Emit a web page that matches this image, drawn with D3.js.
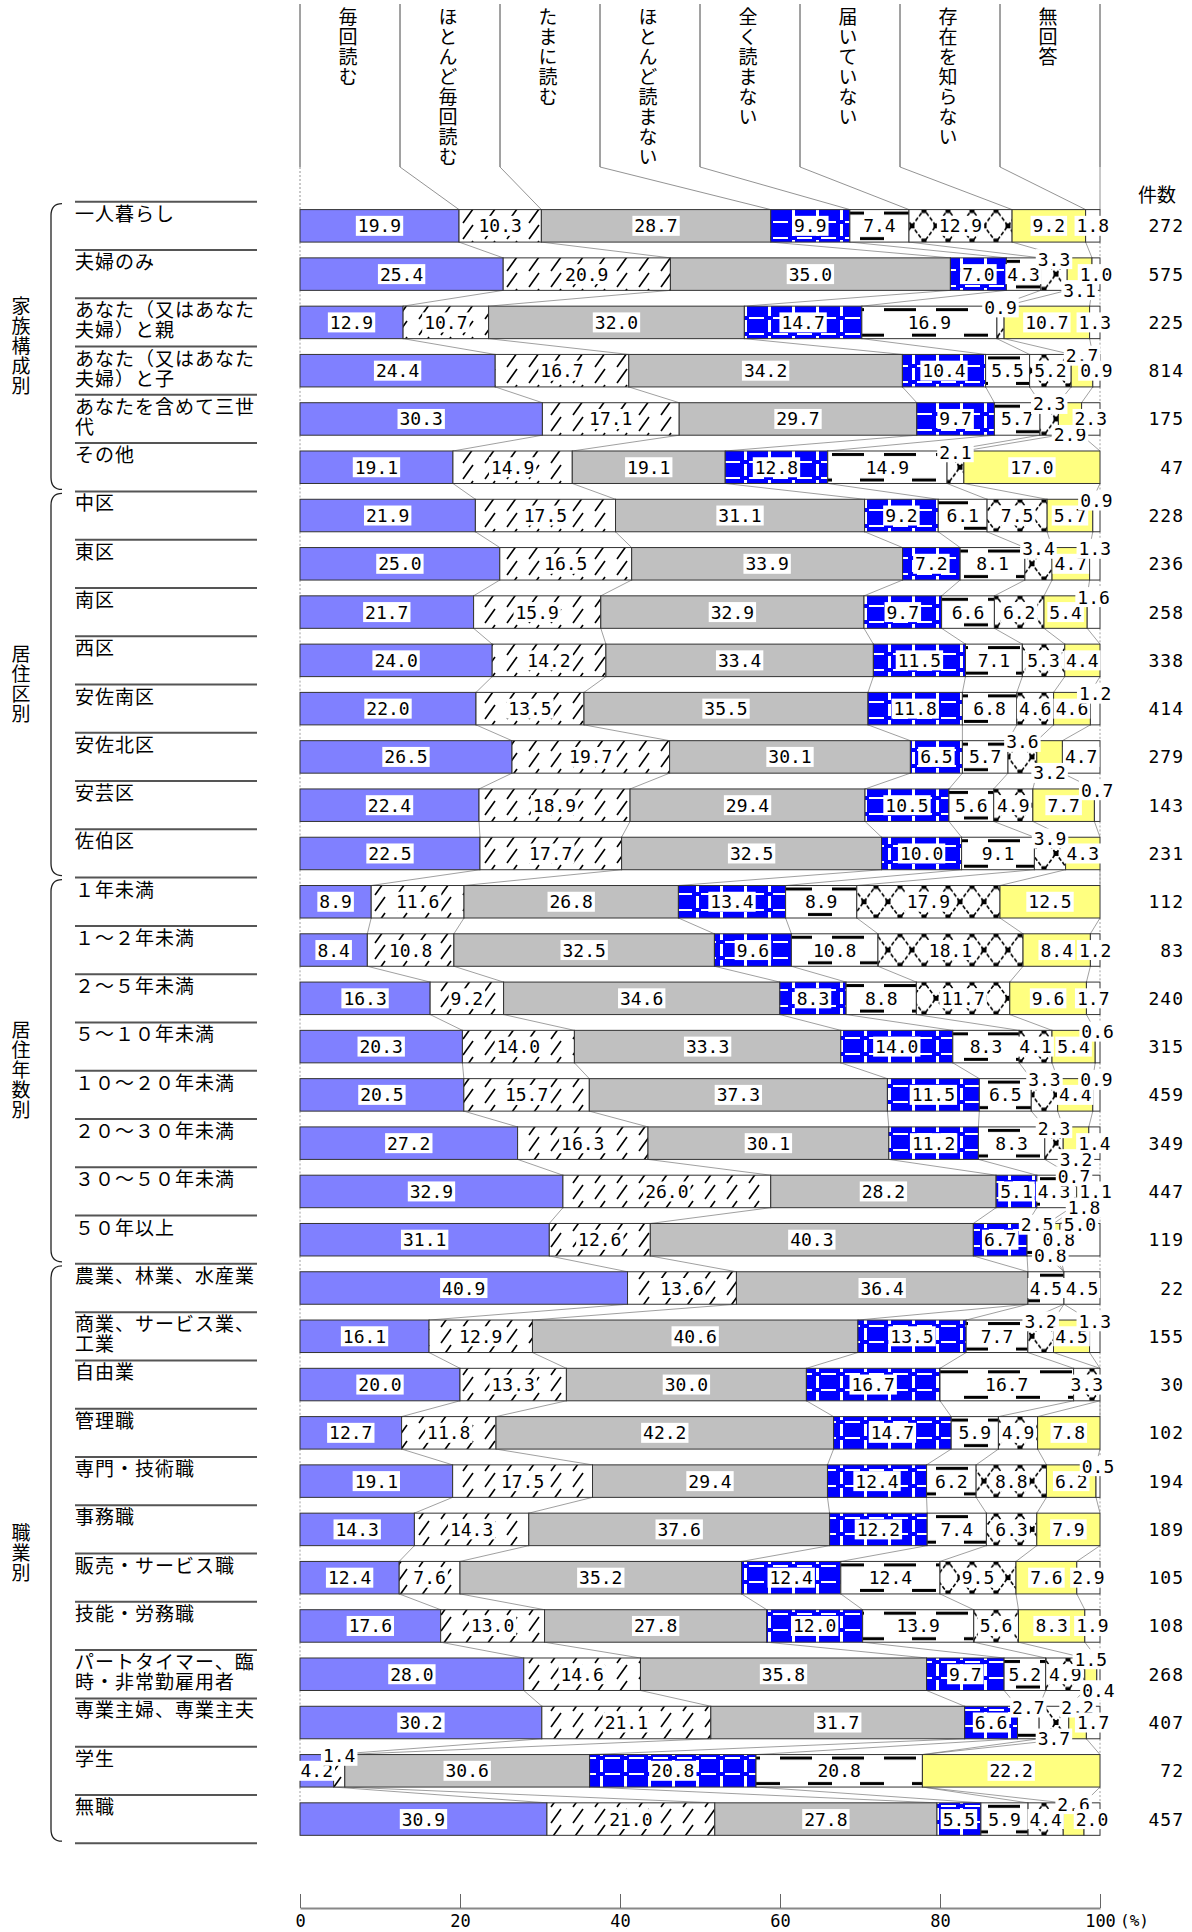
<!DOCTYPE html>
<html>
<head>
<meta charset="utf-8">
<script src="https://cdn.jsdelivr.net/npm/d3@7"></script>
<style>
  body { margin: 0; background: #fff; }
  svg { display: block; font-family: "Noto Sans CJK JP", sans-serif; }
</style>
</head>
<body>
<div id="chart"></div>
<script>
// answer categories (left to right)
const categories = ["毎回読む", "ほとんど毎回読む", "たまに読む", "ほとんど読まない",
  "全く読まない", "届いていない", "存在を知らない", "無回答"];

const groupNames = ["家族構成別", "居住区別", "居住年数別", "職業別"];

const familyLabels = ["一人暮らし", "夫婦のみ", "あなた（又はあなた\n夫婦）と親",
  "あなた（又はあなた\n夫婦）と子", "あなたを含めて三世\n代", "その他"];
const familyValues = [
  [19.9, 10.3, 28.7, 9.9, 7.4, 12.9, 9.2, 1.8],
  [25.4, 20.9, 35.0, 7.0, 4.3, 3.3, 3.1, 1.0],
  [12.9, 10.7, 32.0, 14.7, 16.9, 0.9, 10.7, 1.3],
  [24.4, 16.7, 34.2, 10.4, 5.5, 5.2, 2.7, 0.9],
  [30.3, 17.1, 29.7, 9.7, 5.7, 2.3, 2.9, 2.3],
  [19.1, 14.9, 19.1, 12.8, 14.9, 2.1, 17.0, 0]
];
const familyCounts = [272, 575, 225, 814, 175, 47];

const wardLabels = ["中区", "東区", "南区", "西区", "安佐南区", "安佐北区", "安芸区", "佐伯区"];
const wardValues = [
  [21.9, 17.5, 31.1, 9.2, 6.1, 7.5, 5.7, 0.9],
  [25.0, 16.5, 33.9, 7.2, 8.1, 3.4, 4.7, 1.3],
  [21.7, 15.9, 32.9, 9.7, 6.6, 6.2, 5.4, 1.6],
  [24.0, 14.2, 33.4, 11.5, 7.1, 5.3, 4.4, 0],
  [22.0, 13.5, 35.5, 11.8, 6.8, 4.6, 4.6, 1.2],
  [26.5, 19.7, 30.1, 6.5, 5.7, 3.6, 3.2, 4.7],
  [22.4, 18.9, 29.4, 10.5, 5.6, 4.9, 7.7, 0.7],
  [22.5, 17.7, 32.5, 10.0, 9.1, 3.9, 4.3, 0]
];
const wardCounts = [228, 236, 258, 338, 414, 279, 143, 231];

const yearsLabels = ["１年未満", "１～２年未満", "２～５年未満", "５～１０年未満",
  "１０～２０年未満", "２０～３０年未満", "３０～５０年未満", "５０年以上"];
const yearsValues = [
  [8.9, 11.6, 26.8, 13.4, 8.9, 17.9, 12.5, 0],
  [8.4, 10.8, 32.5, 9.6, 10.8, 18.1, 8.4, 1.2],
  [16.3, 9.2, 34.6, 8.3, 8.8, 11.7, 9.6, 1.7],
  [20.3, 14.0, 33.3, 14.0, 8.3, 4.1, 5.4, 0.6],
  [20.5, 15.7, 37.3, 11.5, 6.5, 3.3, 4.4, 0.9],
  [27.2, 16.3, 30.1, 11.2, 8.3, 2.3, 3.2, 1.4],
  [32.9, 26.0, 28.2, 5.1, 4.3, 0.7, 1.8, 1.1],
  [31.1, 12.6, 40.3, 6.7, 2.5, 0.8, 0.8, 5.0]
];
const yearsCounts = [112, 83, 240, 315, 459, 349, 447, 119];

const jobLabels = ["農業、林業、水産業", "商業、サービス業、\n工業", "自由業", "管理職",
  "専門・技術職", "事務職", "販売・サービス職", "技能・労務職",
  "パートタイマー、臨\n時・非常勤雇用者", "専業主婦、専業主夫", "学生", "無職"];
const jobValues = [
  [40.9, 13.6, 36.4, 0, 4.5, 0, 0, 4.5],
  [16.1, 12.9, 40.6, 13.5, 7.7, 3.2, 4.5, 1.3],
  [20.0, 13.3, 30.0, 16.7, 16.7, 3.3, 0, 0],
  [12.7, 11.8, 42.2, 14.7, 5.9, 4.9, 7.8, 0],
  [19.1, 17.5, 29.4, 12.4, 6.2, 8.8, 6.2, 0.5],
  [14.3, 14.3, 37.6, 12.2, 7.4, 6.3, 7.9, 0],
  [12.4, 7.6, 35.2, 12.4, 12.4, 9.5, 7.6, 2.9],
  [17.6, 13.0, 27.8, 12.0, 13.9, 5.6, 8.3, 1.9],
  [28.0, 14.6, 35.8, 9.7, 5.2, 4.9, 1.5, 0.4],
  [30.2, 21.1, 31.7, 6.6, 2.7, 3.7, 2.2, 1.7],
  [4.2, 1.4, 30.6, 20.8, 20.8, 0, 22.2, 0],
  [30.9, 21.0, 27.8, 5.5, 5.9, 4.4, 2.6, 2.0]
];
const jobCounts = [22, 155, 30, 102, 194, 189, 105, 108, 268, 407, 72, 457];

const axisTicks = [0, 20, 40, 60, 80, 100];


// build the table for d3.stack
const groupLabels = [familyLabels, wardLabels, yearsLabels, jobLabels];
const groupValues = [familyValues, wardValues, yearsValues, jobValues];
const groupCounts = [familyCounts, wardCounts, yearsCounts, jobCounts];

const rows = [];
groupLabels.forEach((labels, g) => {
  labels.forEach((label, i) => {
    const row = { id: rows.length, group: g, label: label, count: groupCounts[g][i] };
    categories.forEach((c, k) => row[c] = groupValues[g][i][k]);
    rows.push(row);
  });
});

const width = 1192, height = 1932;

const svg = d3.select("#chart").append("svg")
  .attr("width", width)
  .attr("height", height);

// 100% stacked: expand offset normalises every row to 1
const series = d3.stack().keys(categories).offset(d3.stackOffsetExpand)(rows);

const x = d3.scaleLinear().domain([0, 1]).range([300, 1100]);
const xPct = d3.scaleLinear().domain([0, 100]).range([300, 1100]);

const y = d3.scaleBand()
  .domain(rows.map(d => d.id))
  .range([201.7, 201.7 + rows.length * 48.28])
  .paddingInner(0.327)
  .paddingOuter(0.1635);
const ruleY = i => y.range()[0] + i * y.step();

// ---------- patterns ----------
const defs = svg.append("defs");

const pHatch = defs.append("pattern").attr("id", "pHatch")
  .attr("patternUnits", "userSpaceOnUse").attr("width", 22).attr("height", 16);
pHatch.append("rect").attr("width", 22).attr("height", 16).attr("fill", "#fff");
pHatch.append("line").attr("x1", 1).attr("y1", 15).attr("x2", 11).attr("y2", 1)
  .attr("stroke", "#000").attr("stroke-width", 1.6);

const pBlue = defs.append("pattern").attr("id", "pBlue")
  .attr("patternUnits", "userSpaceOnUse").attr("width", 24).attr("height", 16);
pBlue.append("rect").attr("width", 24).attr("height", 16).attr("fill", "#0000ff");
pBlue.append("rect").attr("x", 0).attr("y", 0).attr("width", 3).attr("height", 12).attr("fill", "#fff");
pBlue.append("rect").attr("x", 5).attr("y", 13).attr("width", 15).attr("height", 2).attr("fill", "#fff");

const pDash = defs.append("pattern").attr("id", "pDash")
  .attr("patternUnits", "userSpaceOnUse").attr("width", 52).attr("height", y.step())
  .attr("y", y(0));
pDash.append("rect").attr("width", 52).attr("height", y.step()).attr("fill", "#fff");
pDash.append("rect").attr("x", 0).attr("y", 2).attr("width", 32).attr("height", 3).attr("fill", "#000");
pDash.append("rect").attr("x", 28).attr("y", y.bandwidth() - 5).attr("width", 24).attr("height", 3).attr("fill", "#000");

const pCross = defs.append("pattern").attr("id", "pCross")
  .attr("patternUnits", "userSpaceOnUse").attr("width", 24).attr("height", y.step())
  .attr("y", y(0));
pCross.append("rect").attr("width", 24).attr("height", y.step()).attr("fill", "#fff");
const bh = y.bandwidth();
pCross.append("path")
  .attr("d", `M0,${bh / 2}L12,0L24,${bh / 2}L12,${bh}Z`)
  .attr("fill", "none").attr("stroke", "#000").attr("stroke-width", 1.6)
  .attr("stroke-dasharray", "4,2");
[[12, 1], [0, bh / 2], [24, bh / 2], [12, bh - 1]].forEach(p =>
  pCross.append("rect").attr("x", p[0] - 2.5).attr("y", p[1] - 2.5)
    .attr("width", 5).attr("height", 5).attr("fill", "#000"));

const fills = ["#8080ff", "url(#pHatch)", "#c0c0c0", "url(#pBlue)",
  "url(#pDash)", "url(#pCross)", "#ffff80", "#ffffff"];

// ---------- header ----------
const header = svg.append("g");
const colW = 100;
// one text element written top to bottom
function verticalText(g, str, cx, y0, anchor) {
  return g.append("text")
    .attr("x", cx).attr("y", y0)
    .attr("text-anchor", anchor)
    .style("writing-mode", "vertical-rl")
    .style("font-size", "19px")
    .style("letter-spacing", "1px")
    .text(str);
}

// boundaries of the first bar, for header connectors
const firstBounds = [0].concat(series.map(s => s[0][1]));

d3.range(categories.length + 1).forEach(k => {
  const cx = 300 + k * colW;
  header.append("line")
    .attr("x1", cx).attr("x2", cx).attr("y1", 4).attr("y2", 167)
    .attr("stroke", "#444").attr("stroke-width", 1);
  header.append("line")
    .attr("x1", cx).attr("y1", 167)
    .attr("x2", x(firstBounds[k])).attr("y2", y(0))
    .attr("stroke", "#777").attr("stroke-width", 0.8)
    .attr("stroke-dasharray", k === 0 ? "2,2" : null);
});
categories.forEach((c, k) => {
  verticalText(header, c, 300 + k * colW + 48, 7, "start");
});

svg.append("text")
  .attr("x", 1176).attr("y", 193)
  .attr("text-anchor", "end").attr("dominant-baseline", "central")
  .style("font-size", "19px")
  .text("件数");

// ---------- row labels, rules, group braces ----------
const labelG = svg.append("g");
rows.forEach((d, i) => {
  labelG.append("line")
    .attr("x1", 75).attr("x2", 257)
    .attr("y1", ruleY(i)).attr("y2", ruleY(i))
    .attr("stroke", "#555").attr("stroke-width", 2);
  const t = labelG.append("text")
    .attr("y", ruleY(i) + 19)
    .style("font-size", "19px")
    .style("letter-spacing", "1px");
  d.label.split("\n").forEach((line, j) => {
    t.append("tspan")
      .attr("x", 75)
      .attr("dy", j === 0 ? 0 : 20)
      .text(line);
  });
});
labelG.append("line")
  .attr("x1", 75).attr("x2", 257)
  .attr("y1", ruleY(rows.length)).attr("y2", ruleY(rows.length))
  .attr("stroke", "#555").attr("stroke-width", 2);

let start = 0;
groupNames.forEach((name, g) => {
  const n = groupLabels[g].length;
  const top = ruleY(start) + 2, bot = ruleY(start + n) - 2;
  labelG.append("path")
    .attr("d", `M62,${top}Q51,${top} 51,${top + 12}L51,${bot - 12}Q51,${bot} 62,${bot}`)
    .attr("fill", "none").attr("stroke", "#222").attr("stroke-width", 1.3);
  verticalText(labelG, name, 21, (top + bot) / 2, "middle");
  start += n;
});

// ---------- connectors between bars ----------
const conn = svg.append("g");
const bounds = rows.map((d, i) => [0].concat(series.map(s => s[i][1])));
for (let i = 0; i < rows.length - 1; i++) {
  bounds[i].forEach((b, k) => {
    conn.append("line")
      .attr("x1", x(b)).attr("y1", y(i) + y.bandwidth())
      .attr("x2", x(bounds[i + 1][k])).attr("y2", y(i + 1))
      .attr("stroke", "#777").attr("stroke-width", 0.7)
      .attr("stroke-dasharray", (k === 0 || k === categories.length) ? "2,2" : null);
  });
}

// ---------- bars ----------
svg.append("g")
  .selectAll("g")
  .data(series)
  .join("g")
    .attr("fill", (s, k) => fills[k])
  .selectAll("rect")
  .data(s => s.filter(d => d[1] - d[0] > 0))
  .join("rect")
    .attr("x", d => x(d[0]))
    .attr("y", d => y(d.data.id))
    .attr("width", d => x(d[1]) - x(d[0]))
    .attr("height", y.bandwidth())
    .attr("stroke", "#333")
    .attr("stroke-width", 1);

// ---------- value labels ----------
const labG = svg.append("g")
  .style("font-family", "'DejaVu Sans Mono', monospace")
  .style("font-size", "18px");
const probe = labG.append("text").text("0");
function textW(s) { probe.text(s); return probe.node().getComputedTextLength(); }

const boxH = 18;
rows.forEach((d, i) => {
  const placed = [];
  const cy = y(d.id) + y.bandwidth() / 2;
  const free = b => placed.every(p =>
    b.x0 >= p.x1 - 1 || b.x1 <= p.x0 + 1 || b.y0 >= p.y1 - 3 || b.y1 <= p.y0 + 3);
  const segs = series.map((s, k) => ({ k: k, v: d[categories[k]], x0: x(s[i][0]), x1: x(s[i][1]) }))
    .filter(s => s.v > 0);
  segs.forEach((s, j) => {
    const txt = s.v.toFixed(1);
    const w = textW(txt) + 4;
    const cx0 = (s.x0 + s.x1) / 2;
    const fits = w <= (s.x1 - s.x0) + 4;
    const last = j === segs.length - 1;
    const tries = [];
    if (fits || last) tries.push([0, 0]);
    tries.push([0, -15], [0, 16]);
    for (let sh = 2; sh <= 40; sh += 2) tries.push([sh, 0], [sh, -15], [sh, 16]);
    let box = null;
    for (const t of tries) {
      const cx = cx0 + t[0], ly = cy + t[1];
      const b = { x0: cx - w / 2, x1: cx + w / 2, y0: ly - boxH / 2, y1: ly + boxH / 2, cx: cx, cy: ly };
      if (free(b)) { box = b; break; }
    }
    if (!box) box = { x0: cx0 - w / 2, x1: cx0 + w / 2, y0: cy - boxH / 2, y1: cy + boxH / 2, cx: cx0, cy: cy };
    placed.push(box);
    labG.append("rect")
      .attr("x", box.x0).attr("y", box.y0 - 1)
      .attr("width", w).attr("height", boxH + 2)
      .attr("fill", "#fff");
    labG.append("text")
      .attr("x", box.cx).attr("y", box.cy)
      .attr("text-anchor", "middle")
      .attr("dominant-baseline", "central")
      .text(txt);
  });
});
probe.remove();

// ---------- counts ----------
svg.append("g")
  .selectAll("text")
  .data(rows)
  .join("text")
    .attr("x", 1184)
    .attr("y", d => y(d.id) + y.bandwidth() / 2)
    .attr("text-anchor", "end")
    .attr("dominant-baseline", "central")
    .style("font-family", "'DejaVu Sans Mono', monospace")
    .style("font-size", "18px")
    .style("letter-spacing", "1px")
    .text(d => d.count);

// ---------- axis ----------
const axisY = 1908;
const axis = svg.append("g")
  .attr("transform", `translate(0,${axisY})`)
  .call(d3.axisBottom(xPct).tickValues(axisTicks).tickSize(-14).tickSizeOuter(0).tickPadding(7));
axis.select(".domain").attr("stroke", "#888").attr("stroke-width", 2);
axis.selectAll(".tick line").attr("stroke", "#666");
axis.selectAll(".tick text")
  .style("font-family", "'DejaVu Sans Mono', monospace")
  .style("font-size", "17px")
  .attr("fill", "#000");
svg.append("text")
  .attr("x", xPct(100) + 20).attr("y", axisY + 7)
  .attr("dy", "0.71em")
  .style("font-family", "'DejaVu Sans Mono', monospace")
  .style("font-size", "16px")
  .text("(%)");
</script>
</body>
</html>
